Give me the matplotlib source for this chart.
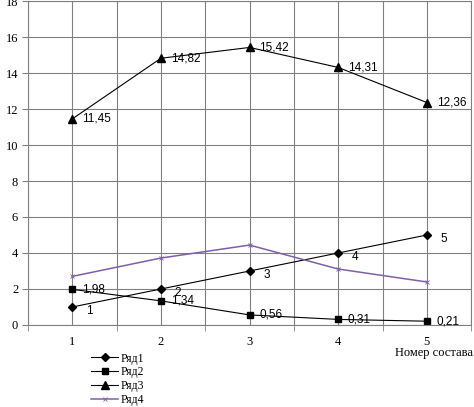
import matplotlib.pyplot as plt

# data
sostav = [1, 2, 3, 4, 5]
ryad1 = [1, 2, 3, 4, 5]
ryad2 = [1.98, 1.34, 0.56, 0.31, 0.21]
ryad3 = [11.45, 14.82, 15.42, 14.31, 12.36]
ryad4 = [2.7, 3.72, 4.44, 3.11, 2.39]

labels1 = ['1', '2', '3', '4', '5']
labels2 = ['1,98', '1,34', '0,56', '0,31', '0,21']
labels3 = ['11,45', '14,82', '15,42', '14,31', '12,36']

serif = 'Liberation Serif'
sans = 'Liberation Sans'

fig = plt.figure(figsize=(4.74, 4.07), dpi=100)
ax = fig.add_axes([0.059, 0.2015, 0.935, 0.796])

ax.plot(sostav, ryad1, color='black', lw=0.8, marker='D', ms=4, label='Ряд1')
ax.plot(sostav, ryad2, color='black', lw=0.8, marker='s', ms=5, label='Ряд2')
ax.plot(sostav, ryad3, color='black', lw=0.8, marker='^', ms=6, label='Ряд3')
ax.plot(sostav, ryad4, color='#7f5fa8', lw=1.1, marker='x', ms=2.5,
        mew=0.6, label='Ряд4')

for x, y, t in zip(sostav, ryad1, labels1):
    ax.annotate(t, (x, y), xytext=(10, -3), textcoords='offset points',
                va='center', fontsize=8.5, family=sans)
for x, y, t in zip(sostav, ryad2, labels2):
    ax.annotate(t, (x, y), xytext=(7, 0), textcoords='offset points',
                va='center', fontsize=8.5, family=sans)
for x, y, t in zip(sostav, ryad3, labels3):
    ax.annotate(t, (x, y), xytext=(7, 0), textcoords='offset points',
                va='center', fontsize=8.5, family=sans)

ax.set_xlim(0.5, 5.5)
ax.set_ylim(0, 18)
ax.set_yticks(range(0, 19, 2))
ax.set_xticks(sostav)
ax.set_xticks([0.5, 1.5, 2.5, 3.5, 4.5, 5.5], minor=True)
ax.grid(True, which='both', color='#808080', lw=0.8)
ax.tick_params(axis='x', which='major', length=0, pad=8)
ax.tick_params(axis='x', which='minor', length=4, color='#808080')
ax.tick_params(axis='y', length=4, color='#808080', pad=3)
for lab in ax.get_xticklabels() + ax.get_yticklabels():
    lab.set_family(serif)
    lab.set_fontsize(9)
for s in ax.spines.values():
    s.set_color('#808080')
ax.set_axisbelow(True)

fig.text(0.998, 0.133, 'Номер состава', ha='right', va='center',
         family=serif, fontsize=9)

fig.legend(loc='lower left', bbox_to_anchor=(0.19, 0.0), frameon=False,
           prop={'family': serif, 'size': 8.5}, handlelength=2.3,
           labelspacing=0.15, handletextpad=0.2, borderaxespad=0,
           borderpad=0.1)

fig.savefig('out.png', dpi=100)
